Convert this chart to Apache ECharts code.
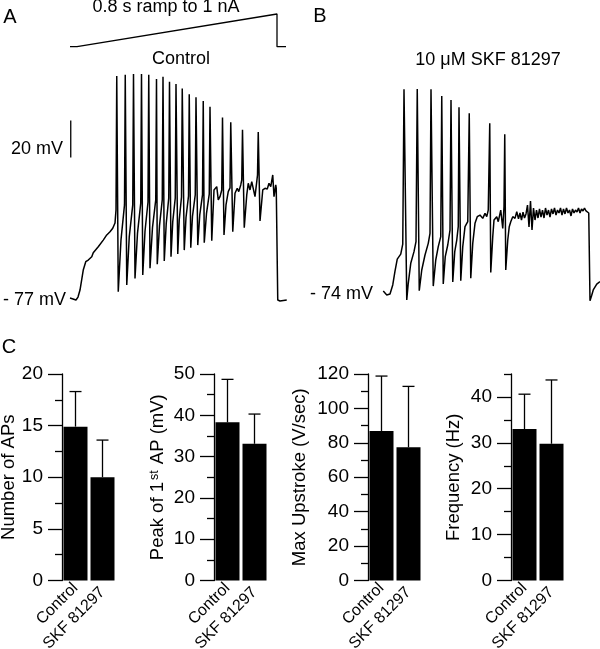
<!DOCTYPE html>
<html><head><meta charset="utf-8">
<script src="https://cdn.jsdelivr.net/npm/echarts@6/dist/echarts.min.js"></script>
<style>html,body{margin:0;padding:0;background:#fff}#c{width:600px;height:649px}</style>
</head><body><div id="c"></div>
<script>
// ---- Panel A: control trace [time ms, membrane potential mV]
const traceControl = [
[-28,-77],[-16,-77.5],[-4,-78.1],[4,-76.5],[12,-72.7],[25,-61.9],[35,-57.4],[45,-56.5],[59,-54.7],[65,-52.5],[85,-49.3],[105,-45.7],[119,-42.9],[132,-41.2],[143,-39.3],[152,-36.5],[156,-29.4],
[159,43.0],[165,-73.6],[176,-45.5],[190,-26.7],
[193,43.7],[199,-70.0],[209,-44.0],[223,-26.7],
[226,44.1],[232,-66.4],[242,-41.9],[255,-25.7],
[258,44.1],[263,-64.6],[272,-40.9],[284,-25.1],
[287,43.7],[292,-60.9],[302,-38.8],[315,-24.0],
[318,41.4],[321,-58.8],[330,-37.9],[341,-24.0],
[344,42.6],[349,-57.0],[357,-36.6],[367,-23.0],
[370,39.9],[376,-54.7],[383,-35.7],[393,-23.0],
[396,38.7],[403,-53.2],[409,-34.7],[418,-22.4],
[421,36.3],[429,-51.1],[436,-33.5],[446,-21.9],
[449,33.1],[455,-49.8],[462,-32.7],[473,-21.3],
[476,31.5],[483,-48.4],[491,-32.1],[502,-21.3],
[505,29.5],[509,-47.1],[518,-31.3],[529,-20.8],
[532,26.4],[539,-46.0],[548,-18.6],[559,-16.8],[565,-24.0],[572,-22.2],[579,-18.6],
[582,20.5],[588,-42.9],[596,-26.7],[605,-19.5],[612,-17.5],
[615,18.0],[623,-41.2],[632,-20.4],[641,-17.7],[647,-19.5],[655,-15.9],[659,-13.2],
[662,14.0],[669,-39.0],[679,-21.3],[685,-15.0],[692,-18.6],[699,-14.1],[705,-13.2],[712,-22.2],[719,-14.1],[722,-10.5],
[725,12.7],[732,-35.4],[743,-18.6],[752,-17.7],[761,-18.1],[768,-15.0],[775,-16.8],[783,-10.5],[788,-22.2],[795,-15.9],[797,-17.7],
[803,-78.1],[812,-78.6],[839,-78.1]
];
// ---- Panel B: SKF 81297 trace [time ms, mV]
const traceSKF = [
[-27,-76.2],[-13,-78.3],[0,-77.8],[11,-72.9],[20,-65.4],[29,-58.9],[43,-56.2],[51,-50.8],
[56,32.9],[67,-81.0],[73,-72.0],[83,-61.2],[96,-54.9],[104,-49.5],
[109,33.0],[117,-76.0],[127,-64.8],[140,-56.7],[153,-50.4],[160,-45.0],
[164,32.9],[173,-73.5],[183,-59.4],[193,-52.2],[203,-46.8],
[207,29.2],[213,-72.4],[221,-57.6],[231,-51.3],[240,-43.2],
[244,27.1],[251,-71.3],[259,-54.9],[267,-48.6],[273,-41.4],
[276,23.1],[283,-70.6],[291,-52.2],[300,-41.4],[311,-38.7],
[317,19.9],[323,-69.3],[331,-50.4],[340,-39.6],[349,-36.0],[360,-35.1],[371,-36.9],[380,-34.2],[387,-36.0],[393,-32.4],
[399,14.5],[403,-66.1],[411,-46.8],[416,-37.8],[427,-36.0],[433,-38.7],[443,-32.4],[451,-42.3],[456,-30.6],
[459,8.5],[463,-64.8],[471,-48.6],[477,-41.4],[483,-38.7],[491,-36.0],[500,-36.9],[507,-33.3],
[514,-37.2],[520,-34.0],[526,-37.8],[532,-33.5],[538,-36.7],[544,-34.5],[550,-29.7],[556,-41.6],[562,-27.5],[568,-43.2],
[574,-31.3],[580,-37.8],[586,-32.4],[592,-36.7],[598,-31.8],[604,-36.2],[610,-32.4],[616,-36.7],[622,-31.3],[628,-35.1],
[634,-32.4],[640,-36.2],[646,-31.8],[652,-34.5],[658,-31.3],[664,-35.1],[670,-32.4],[676,-34.0],[682,-31.3],[688,-35.1],
[694,-31.8],[700,-34.5],[706,-31.3],[712,-34.0],[718,-32.4],[724,-35.6],[730,-31.8],[736,-34.0],[742,-32.4],[748,-33.5],
[754,-31.3],[760,-34.0],[766,-31.8],[772,-32.9],[778,-31.3],[784,-32.9],[790,-32.4],[795,-34.0],
[800,-81.4],[806,-78.9],[813,-75.6],[827,-72.4],[840,-71.1]
];
// ---- Stimulus: 0.8 s ramp to 1 nA [time ms, current nA]
const rampStim = [[-28,0],[0,0],[800,1],[800,0],[836,0]];
// ---- 20 mV scale bar [time ms, mV]
const scaleBar = [[-25,-1],[-25,19]];

// ---- Panel C: group means and SD
const groups = ['Control', 'SKF 81297'];
const apNumber = [14.9, 10.0],   apNumberSD = [3.4, 3.6];
const firstPeak = [38.3, 33.1],  firstPeakSD = [10.4, 7.2];
const maxUpstroke = [86.9, 77.4], maxUpstrokeSD = [31.9, 35.4];
const frequency = [33.0, 29.8],  frequencySD = [7.6, 13.9];
const axisMax = [20, 50, 120, 45];
const majorTicks = [[0,5,10,15,20],[0,10,20,30,40,50],[0,20,40,60,80,100,120],[0,10,20,30,40]];
const minorTicks = [[2.5,7.5,12.5,17.5],[5,15,25,35,45],[10,30,50,70,90,110],[5,15,25,35,45]];
const axisTitles = ['Number of APs','Peak of 1{sup|st} AP (mV)','Max Upstroke (V/sec)','Frequency (Hz)'];
const sigLevel = 20.1, sigText = '**';

const FONT = 'Liberation Sans, Arial, Helvetica, sans-serif';
const chart = echarts.init(document.getElementById('c'), null, {renderer:'canvas'});

const grids = [
  {left:67, top:59.35, width:225, height:247.9, outerBoundsMode:'none', containLabel:false},   // trace A
  {left:67, top:7.46, width:225, height:45.78, outerBoundsMode:'none', containLabel:false},    // ramp
  {left:380, top:53.9, width:225, height:251.6, outerBoundsMode:'none', containLabel:false}    // trace B
];
const xAxes = [
  {type:'value', gridIndex:0, min:-40, max:860, show:false},
  {type:'value', gridIndex:1, min:-40, max:860, show:false},
  {type:'value', gridIndex:2, min:-40, max:860, show:false}
];
const yAxes = [
  {type:'value', gridIndex:0, min:-82, max:52, show:false},
  {type:'value', gridIndex:1, min:-0.2, max:1.2, show:false},
  {type:'value', gridIndex:2, min:-84, max:52, show:false}
];
const series = [
  {type:'line', xAxisIndex:0, yAxisIndex:0, data:traceControl, showSymbol:false, symbol:'none', lineStyle:{color:'#000', width:1.5}, silent:true},
  {type:'line', xAxisIndex:0, yAxisIndex:0, data:scaleBar, showSymbol:false, symbol:'none', lineStyle:{color:'#000', width:1.3}, silent:true},
  {type:'line', xAxisIndex:1, yAxisIndex:1, data:rampStim, showSymbol:false, symbol:'none', lineStyle:{color:'#000', width:1.3}, silent:true},
  {type:'line', xAxisIndex:2, yAxisIndex:2, data:traceSKF, showSymbol:false, symbol:'none', lineStyle:{color:'#000', width:1.5}, silent:true}
];

const panelMeans = [apNumber, firstPeak, maxUpstroke, frequency];
const panelSD = [apNumberSD, firstPeakSD, maxUpstrokeSD, frequencySD];
const panelLeft = [62, 214, 368, 511];
const nameGaps = [43, 47, 59, 48];

panelMeans.forEach((means, p) => {
  const gi = grids.length;
  grids.push({left:panelLeft[p], top:374, width:54, height:206.5, outerBoundsMode:'none', containLabel:false});
  const xi = xAxes.length;
  xAxes.push({type:'category', gridIndex:gi, data:groups, boundaryGap:true,
    axisLine:{show:false}, axisTick:{show:false},
    axisLabel:{rotate:45, margin:5, fontSize:16, fontFamily:FONT, color:'#000', interval:0,
      formatter:(v, i) => i === 1 ? '{s|' + v + '}' : '{c|' + v + '}',
      rich:{c:{fontSize:16, fontFamily:FONT, color:'#000'},
            s:{fontSize:16, fontFamily:FONT, color:'#000', padding:[6,3,0,0]}}}});
  const yi = yAxes.length;
  yAxes.push({type:'value', gridIndex:gi, min:0, max:axisMax[p], position:'left',
    axisLine:{show:true, lineStyle:{color:'#000', width:1.3}},
    axisTick:{show:true, customValues:majorTicks[p], length:14, lineStyle:{color:'#000', width:1.3}},
    axisLabel:{customValues:majorTicks[p], margin:19, fontSize:19, fontFamily:FONT, color:'#000'},
    splitLine:{show:false},
    name:axisTitles[p], nameLocation:'middle', nameGap:nameGaps[p],
    nameTextStyle:{fontSize:18.5, fontFamily:FONT, color:'#000',
      rich:{sup:{fontSize:12.5, fontFamily:FONT, color:'#000', verticalAlign:'top', padding:[0,1,0,2]}}}});
  yAxes.push({type:'value', gridIndex:gi, min:0, max:axisMax[p], position:'left', offset:0,
    axisLine:{show:false}, axisLabel:{show:false}, splitLine:{show:false},
    axisTick:{show:true, customValues:minorTicks[p], length:7, lineStyle:{color:'#000', width:1.3}}});
  const bar = {type:'bar', xAxisIndex:xi, yAxisIndex:yi, data:means, barWidth:24,
    itemStyle:{color:'#000'}, silent:true};
  if (p === 0) {
    bar.markLine = {symbol:'none', silent:true, animation:false,
      lineStyle:{color:'#000', type:'solid', width:1.3},
      label:{show:true, position:'middle', formatter:sigText, fontSize:26, fontFamily:FONT, color:'#000', distance:-2},
      data:[[{coord:[groups[0], sigLevel]},{coord:[groups[1], sigLevel]}]]};
  }
  series.push(bar);
  series.push({type:'custom', xAxisIndex:xi, yAxisIndex:yi, silent:true, z:3,
    data:means.map((m,i)=>[i, m, panelSD[p][i]]),
    renderItem:(params, api)=>{
      const i = api.value(0), m = api.value(1), s = api.value(2);
      const b = api.coord([i, m]), t = api.coord([i, m + s]);
      const st = {stroke:'#000', lineWidth:1.3};
      return {type:'group', children:[
        {type:'line', shape:{x1:t[0], y1:b[1], x2:t[0], y2:t[1]}, style:st},
        {type:'line', shape:{x1:t[0]-6, y1:t[1], x2:t[0]+6, y2:t[1]}, style:st}
      ]};
    }});
});

function txt(x, y, text, size, align){
  return {type:'text', x:x, y:y, silent:true,
    style:{text:text, fontSize:size, fontFamily:FONT, fill:'#000', align:align||'center', verticalAlign:'middle'}};
}

chart.setOption({
  animation:false,
  backgroundColor:'#fff',
  grid:grids, xAxis:xAxes, yAxis:yAxes, series:series,
  graphic:[
    txt(10, 17, 'A', 20), txt(320, 16, 'B', 20), txt(9, 347, 'C', 20),
    txt(166, 7, '0.8 s ramp to 1 nA', 18),
    txt(181, 59, 'Control', 18),
    txt(488, 60, '10 \u03bcM SKF 81297', 18),
    txt(63, 149, '20 mV', 18, 'right'),
    txt(3, 300, '- 77 mV', 18, 'left'),
    txt(373, 294, '- 74 mV', 18, 'right')
  ]
});
</script></body></html>
